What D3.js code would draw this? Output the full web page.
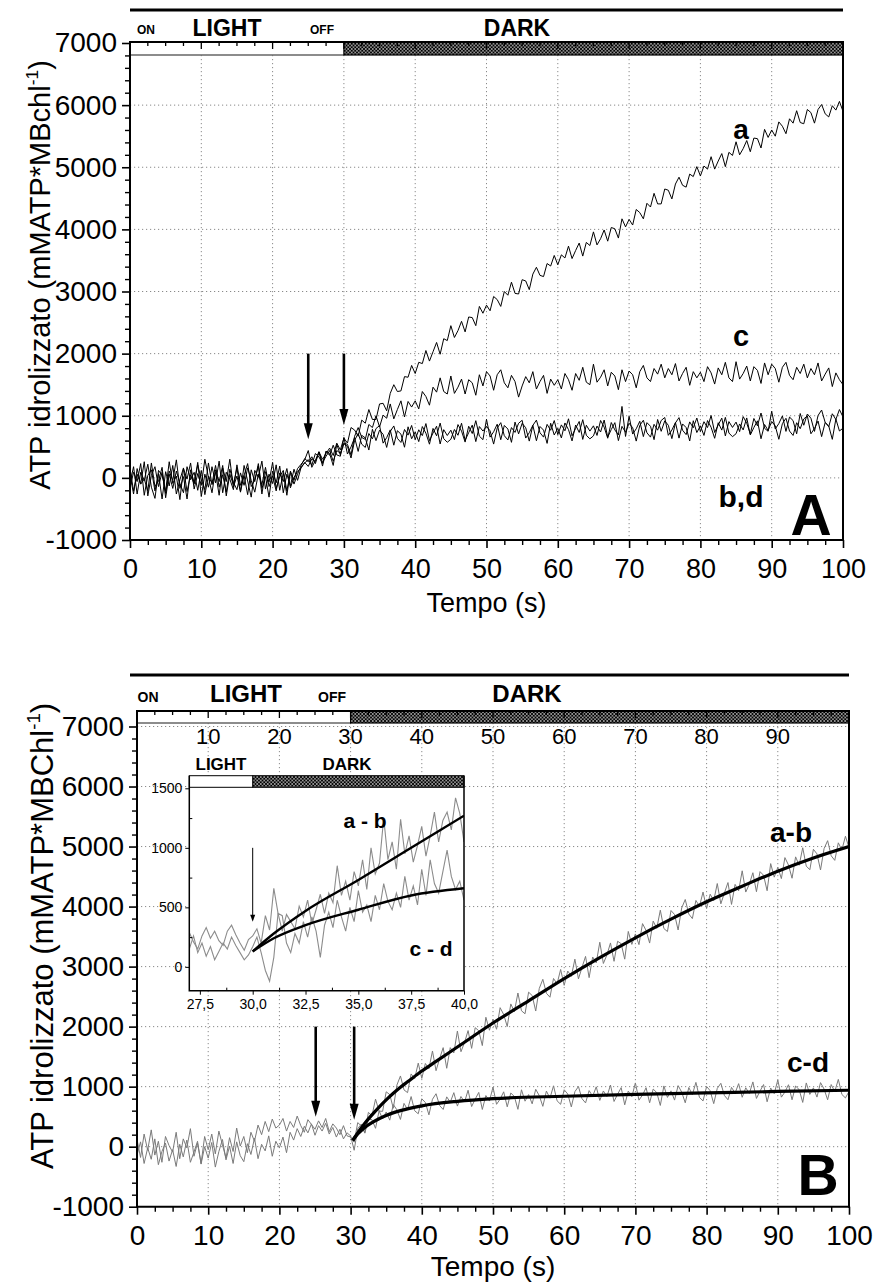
<!DOCTYPE html>
<html><head><meta charset="utf-8">
<script src="https://cdn.jsdelivr.net/npm/d3@7"></script>
<style>body{margin:0;background:#fff} svg text{font-family:"Liberation Sans",Arial,Helvetica,sans-serif}</style>
</head><body>
<svg id="c" width="875" height="1283"></svg>
<script>
// ---------------- DATA ----------------
const sampleStep = 0.5; // s, traces sampled every 0.5 s starting at 0
const xTicks = [0,10,20,30,40,50,60,70,80,90,100];
const yTicks = [-1000,0,1000,2000,3000,4000,5000,6000,7000];
const topTicksB = [10,20,30,40,50,60,70,80,90];
const insetXTicks = [27.5,30,32.5,35,37.5,40];
const insetYTicks = [0,500,1000,1500];
const lightEnd = 30;

// Panel A traces
const traceA = [
-80,180,-260,90,-40,220,-150,-330,120,40,
-210,260,-90,30,-350,150,-20,240,-180,70,
-120,300,10,-240,130,-60,200,-290,60,-110,
160,-220,40,230,-140,-30,190,-260,100,-70,
250,-170,20,120,-210,90,-100,60,200,310,
260,340,230,420,300,390,480,360,560,450,
640,560,810,770,670,930,880,1100,940,940,
1190,1200,1080,1360,1500,1390,1400,1630,1620,1810,
1680,1860,1840,2050,1880,2030,2180,1990,2240,2210,
2450,2260,2370,2520,2350,2590,2580,2450,2760,2650,
2780,2690,2920,2870,2760,3000,2940,3150,2970,2960,
3190,3170,3030,3280,3390,3260,3240,3450,3410,3580,
3430,3590,3540,3730,3530,3660,3780,3570,3790,3740,
3960,3750,3850,3990,3810,4030,4010,3860,4170,4040,
4160,4070,4320,4270,4170,4420,4360,4580,4410,4410,
4650,4630,4490,4730,4840,4710,4680,4890,4850,5010,
4860,5020,4970,5170,4970,5100,5220,5010,5240,5190,
5410,5200,5300,5430,5250,5470,5460,5310,5610,5480,
5600,5500,5730,5660,5540,5780,5710,5910,5720,5700,
5930,5880,5710,5930,6010,5860,5810,5990,5920,6060,
5900];
const traceC = [
150,-210,60,-100,260,-290,40,180,-140,90,
-250,110,-40,290,-170,20,-340,130,-80,210,
-30,-190,240,-110,90,-280,160,-60,300,-150,
30,-230,200,-50,-310,120,10,270,-180,60,
-90,210,-200,80,-280,110,-40,150,220,290,
440,170,280,420,190,430,390,200,540,370,
560,540,370,670,810,650,620,860,810,1000,
820,1010,960,1190,950,1100,1240,980,1230,1140,
1240,1110,1390,1310,1170,1460,1380,1610,1390,1350,
1640,1360,1460,1590,1350,1580,1530,1330,1660,1480,
1710,1640,1410,1660,1740,1530,1450,1650,1550,1300,
1480,1630,1530,1710,1430,1550,1650,1360,1590,1490,
1580,1430,1680,1580,1410,1680,1570,1780,1540,1500,
1830,1540,1620,1740,1480,1700,1640,1420,1740,1550,
1720,1660,1450,1710,1810,1610,1550,1760,1670,1830,
1610,1760,1660,1840,1560,1680,1780,1490,1710,1610,
1700,1550,1790,1690,1510,1770,1660,1860,1610,1550,
1870,1590,1680,1800,1560,1790,1730,1520,1850,1660,
1830,1760,1540,1780,1860,1650,1580,1780,1680,1830,
1610,1760,1660,1850,1560,1670,1770,1470,1690,1580,
1500];
const traceB = [
-160,90,-60,230,-280,40,130,-210,70,-340,
100,-130,200,-260,-30,160,-220,50,-100,250,
-300,60,-150,180,-80,270,-240,90,-20,-190,
210,-120,40,-270,130,-60,230,-170,20,-310,
110,-80,190,-240,60,-130,140,-40,170,240,
294,204,392,337,231,427,363,526,370,348,
652,384,498,648,426,684,644,448,782,600,
768,701,490,747,836,637,570,779,688,844,
616,774,680,874,600,722,832,546,776,682,
768,615,858,753,576,831,714,921,672,615,
942,656,742,864,614,844,786,572,898,708,
878,807,592,845,930,727,656,861,766,923,
696,853,758,951,676,797,908,619,848,753,
838,683,924,817,638,891,772,690,1150,667,
992,705,790,911,664,889,830,615,940,749,
918,847,632,885,970,767,696,901,806,963,
746,904,810,1004,730,852,962,676,906,812,
898,744,986,880,706,956,838,1044,798,750,
1072,787,874,997,748,979,922,709,1036,847,
1028,960,748,1004,1092,892,824,1032,940,1100,
980];
const traceD = [
50,-260,150,-100,-20,-210,240,-140,-50,170,
-320,60,-170,110,-90,-240,180,-30,90,-200,
120,-270,30,-90,200,-150,50,-230,140,-70,
-190,80,-120,160,-40,-230,60,-110,170,-140,
30,-210,80,-60,150,-160,10,100,160,250,
184,308,264,412,248,348,440,268,440,396,
548,506,320,602,716,542,490,714,628,794,
842,559,648,773,526,759,704,493,822,630,
738,584,826,720,542,796,677,882,631,573,
621,779,686,880,603,728,849,584,826,754,
828,758,544,801,889,679,610,810,732,879,
927,641,727,846,598,827,769,555,880,690,
798,643,884,777,595,851,731,937,686,628,
676,834,738,931,655,778,889,600,829,734,
878,808,592,845,928,726,656,862,768,924,
972,685,770,891,640,868,810,594,920,730,
838,683,923,815,637,888,769,974,722,663,
711,868,772,965,690,811,918,630,859,763,
908,837,621,874,959,754,683,888,792,949,
997,710,795,915,664,892,835,620,947,755,
800];

// Panel B traces (differences)
const traceAB = [
120,-180,210,-60,280,-140,90,-260,170,20,
-90,240,-200,130,-20,300,-160,60,-280,170,
-50,210,-120,260,30,-190,150,-80,310,10,
170,-100,240,90,360,200,420,250,460,310,
360,470,260,420,320,510,350,240,450,370,
290,430,320,470,250,380,310,200,350,180,
161,75,401,346,234,572,514,792,593,589,
914,868,640,1026,1178,946,900,1212,1134,1392,
1138,1386,1298,1594,1266,1466,1650,1306,1650,1562,
1926,1582,1734,1934,1638,1982,1932,1684,2156,1940,
2124,1956,2316,2202,2002,2378,2248,2560,2264,2214,
2574,2518,2260,2636,2788,2556,2490,2802,2714,2952,
2688,2926,2838,3124,2796,2986,3170,2816,3160,3062,
3406,3052,3194,3394,3088,3422,3382,3124,3586,3370,
3544,3366,3716,3602,3392,3758,3638,3940,3634,3584,
3934,3868,3610,3976,4118,3876,3800,4102,4004,4242,
3968,4206,4098,4384,4046,4226,4400,4036,4370,4262,
4596,4242,4374,4564,4248,4582,4522,4264,4716,4490,
4654,4466,4816,4692,4472,4828,4688,4980,4674,4614,
4954,4878,4610,4966,5098,4846,4770,5062,4944,5172,
4980];
const traceCD = [
-140,80,-280,-20,-210,130,-300,-80,60,-240,
-50,-330,40,-170,110,-260,-90,90,-290,0,
-190,70,-340,-80,120,-220,10,-280,80,-150,
-250,50,-130,140,-200,40,-70,180,-160,90,
-20,160,-100,240,110,300,170,340,230,380,
190,350,260,390,210,320,160,290,130,230,
180,-60,300,376,225,457,449,306,596,462,
578,442,702,614,454,721,616,835,598,548,
798,736,530,790,882,686,620,830,740,900,
676,836,744,940,668,792,904,620,852,760,
992,706,792,914,664,894,836,622,948,758,
868,714,956,850,672,926,808,1014,764,706,
948,877,663,916,1002,799,729,934,840,997,
771,928,834,1027,753,874,984,697,927,832,
1062,775,860,982,731,960,901,687,1012,821,
930,776,1017,910,731,985,866,1071,820,762,
1003,932,717,971,1056,853,782,988,893,1050,
823,981,886,1079,804,926,1035,748,977,883,
1112,825,910,1032,781,1010,951,737,1062,871,
980,826,1067,960,781,1035,916,1121,870,812,
920];

// Fitted curves (panel B)
const fitAB_t = [30.3,31,32,33,34,35,36,37,38,40,42,45,50,55,60,65,70,75,80,85,90,95,100];
const fitAB_v = [110,230,390,530,660,780,890,990,1080,1260,1420,1660,2060,2430,2800,3150,3480,3790,4080,4340,4590,4810,5000];
const fitCD_t = [30.3,31,32,33,34,35,37,40,45,50,60,70,80,90,100];
const fitCD_v = [100,210,320,400,465,520,600,680,755,800,840,870,895,920,940];

// Inset (27-40 s, sampled every 0.2 s)
const insetStart = 27, insetStep = 0.2;
const insetAB = [
290,210,150,260,330,240,300,220,180,300,350,270,200,140,230,
260,320,200,430,310,660,450,300,440,380,
320,510,420,560,360,480,610,450,620,540,
850,600,720,560,800,680,900,650,1000,780,
870,1250,900,1050,820,1240,950,1100,880,1020,
1180,930,1100,1300,1050,1230,1300,1150,1420,1290,1050];
const insetCD = [
150,260,120,200,90,170,60,130,200,150,250,180,120,60,100,
170,250,120,-30,-120,80,450,430,200,120,
280,200,380,250,420,300,80,350,460,330,
560,420,300,500,380,640,460,520,380,600,
480,700,550,480,620,500,760,560,680,520,
820,600,900,700,620,800,980,760,650,720,560];
const insetFitAB_t = [30,31,32.5,35,37.5,40];
const insetFitAB_v = [130,280,470,730,1000,1270];
const insetFitCD_t = [30,31,32.5,35,37.5,40];
const insetFitCD_v = [130,240,350,480,600,660];

// Arrows [time, from value, to value]
const arrowsA = [[25,2000,620],[30,2000,850]];
const arrowsB = [[25.1,2000,500],[30.5,2000,450]];
const arrowInset = [30,1000,380];

// ---------------- DRAWING ----------------
const svg = d3.select("#c");
const defs = svg.append("defs");
const pat = defs.append("pattern").attr("id","hatch").attr("patternUnits","userSpaceOnUse").attr("width",3.5).attr("height",3.5);
pat.append("rect").attr("width",3.5).attr("height",3.5).attr("fill","#fff");
pat.append("path").attr("d","M0,0L3.5,3.5M3.5,0L0,3.5").attr("stroke","#000").attr("stroke-width",1.1);

const toPts = (vals, t0, dt) => vals.map((v,i)=>({t:t0+i*dt, v}));
const zip = (ts, vs) => ts.map((t,i)=>({t, v:vs[i]}));
const plain = d => String(d);

function arrow(g, xp, y1, y2, sw, hl, hw){
  g.append("line").attr("x1",xp).attr("x2",xp).attr("y1",y1).attr("y2",y2-hl+1)
    .attr("stroke","#000").attr("stroke-width",sw);
  g.append("path").attr("d",`M${xp-hw/2},${y2-hl}L${xp+hw/2},${y2-hl}L${xp},${y2}Z`).attr("fill","#000");
}

function yTitle(g, xb, yc, fs, chl){
  const t = g.append("text").attr("transform",`translate(${xb},${yc}) rotate(-90)`)
    .attr("text-anchor","middle").attr("font-size",fs);
  t.append("tspan").text("ATP idrolizzato (mMATP*MB"+chl);
  t.append("tspan").attr("font-size",fs*0.6).attr("dy",-fs*0.42).text("-1");
  t.append("tspan").attr("dy",fs*0.42).text(")");
}

function panel(c){
  const x = d3.scaleLinear().domain([0,100]).range([c.left,c.right]);
  const y = d3.scaleLinear().domain([-1000,7000]).range([c.bottom,c.top7000]);
  const g = svg.append("g");
  const cid = "clip"+c.id;
  defs.append("clipPath").attr("id",cid).append("rect")
    .attr("x",c.left).attr("y",c.barBottom).attr("width",c.right-c.left).attr("height",c.bottom-c.barBottom);

  g.append("g").selectAll("line").data(xTicks.slice(1,-1)).join("line")
    .attr("x1",d=>x(d)).attr("x2",d=>x(d)).attr("y1",c.barBottom).attr("y2",c.bottom)
    .attr("stroke","#8a8a8a").attr("stroke-width",1).attr("stroke-dasharray","1.2,2.8");
  g.append("g").selectAll("line").data(yTicks.filter(d=>d>-1000 && y(d)>c.barBottom+1)).join("line")
    .attr("x1",c.left).attr("x2",c.right).attr("y1",d=>y(d)).attr("y2",d=>y(d))
    .attr("stroke","#8a8a8a").attr("stroke-width",1).attr("stroke-dasharray","1.2,2.8");

  const line = d3.line().x(d=>x(d.t)).y(d=>y(d.v));
  const tg = g.append("g").attr("clip-path",`url(#${cid})`);
  c.traces.forEach(tr=>{
    tg.append("path").attr("d",line(toPts(tr,0,sampleStep))).attr("fill","none")
      .attr("stroke",c.traceColor).attr("stroke-width",1).attr("stroke-linejoin","round");
  });
  if (c.fits) {
    const fl = d3.line().curve(d3.curveMonotoneX).x(d=>x(d.t)).y(d=>y(d.v));
    c.fits.forEach(f=>{
      tg.append("path").attr("d",fl(f)).attr("fill","none").attr("stroke","#000").attr("stroke-width",3.2);
    });
  }

  g.append("line").attr("x1",c.lineX0).attr("x2",c.right).attr("y1",c.topLine).attr("y2",c.topLine)
    .attr("stroke","#000").attr("stroke-width",3);
  const hdr = [["ON",c.onX,c.smallFs,c.smallY],["LIGHT",c.lightX,c.bigFs,c.bigY],["OFF",c.offX,c.smallFs,c.smallY],["DARK",c.darkX,c.bigFs,c.bigY]];
  hdr.forEach(h=>g.append("text").attr("x",h[1]).attr("y",h[3]).attr("text-anchor","middle")
    .attr("font-weight","bold").attr("font-size",h[2]).text(h[0]));

  g.append("rect").attr("x",x(0)).attr("y",c.barTop).attr("width",x(lightEnd)-x(0)).attr("height",c.barBottom-c.barTop)
    .attr("fill","#fff");
  g.append("line").attr("x1",x(0)).attr("x2",x(lightEnd)).attr("y1",c.barBottom).attr("y2",c.barBottom).attr("stroke","#666").attr("stroke-width",1.5);
  g.append("rect").attr("x",x(lightEnd)).attr("y",c.barTop).attr("width",x(100)-x(lightEnd)).attr("height",c.barBottom-c.barTop)
    .attr("fill","url(#hatch)").attr("stroke","#000").attr("stroke-width",1.2);
  g.append("line").attr("x1",x(0)).attr("x2",x(100)).attr("y1",c.barTop).attr("y2",c.barTop).attr("stroke","#000").attr("stroke-width",2);
  g.append("g").selectAll("line").data(d3.range(0,101,2.5)).join("line")
    .attr("x1",d=>x(d)).attr("x2",d=>x(d)).attr("y1",c.barTop)
    .attr("y2",d=>c.barTop + (d%10===0?7:4)).attr("stroke","#000").attr("stroke-width",1.3);

  if (c.topLabels){
    g.append("g").selectAll("text").data(topTicksB).join("text")
      .attr("x",d=>x(d)).attr("y",c.topLabelY).attr("text-anchor","middle").attr("font-size",22).text(d=>d);
  }

  const ax = g.append("g").attr("transform",`translate(0,${c.bottom})`);
  ax.call(d3.axisBottom(x).tickValues(xTicks).tickSize(8).tickFormat(plain));
  ax.select(".domain").remove();
  ax.selectAll(".tick line").attr("stroke-width",1.6);
  ax.selectAll("text").attr("font-size",c.xTickFs).attr("fill","#000").attr("y",c.xLabelOff).attr("dy",0).attr("font-family",null);
  const axm = g.append("g").attr("transform",`translate(0,${c.bottom})`);
  axm.call(d3.axisBottom(x).tickValues(d3.range(0,101,2.5).filter(d=>d%10!==0)).tickSize(5).tickFormat(""));
  axm.select(".domain").remove(); axm.selectAll(".tick line").attr("stroke-width",1.4);

  const ay = g.append("g").attr("transform",`translate(${c.left},0)`);
  ay.call(d3.axisLeft(y).tickValues(yTicks).tickSize(8).tickPadding(5).tickFormat(plain));
  ay.select(".domain").remove();
  ay.selectAll(".tick line").attr("stroke-width",1.6);
  ay.selectAll("text").attr("font-size",c.yTickFs).attr("fill","#000").attr("font-family",null);
  const aym = g.append("g").attr("transform",`translate(${c.left},0)`);
  aym.call(d3.axisLeft(y).tickValues(d3.range(-1000,7001,200).filter(d=>d%1000!==0)).tickSize(5).tickFormat(""));
  aym.select(".domain").remove(); aym.selectAll(".tick line").attr("stroke-width",1.4);

  g.append("line").attr("x1",c.left).attr("x2",c.left).attr("y1",c.barTop-1).attr("y2",c.bottom+1).attr("stroke","#000").attr("stroke-width",2);
  g.append("line").attr("x1",c.right).attr("x2",c.right).attr("y1",c.barTop-1).attr("y2",c.bottom+1).attr("stroke","#000").attr("stroke-width",2);
  g.append("line").attr("x1",c.left).attr("x2",c.right).attr("y1",c.bottom).attr("y2",c.bottom).attr("stroke","#000").attr("stroke-width",2);

  g.append("text").attr("x",(c.left+c.right)/2).attr("y",c.xTitleY).attr("text-anchor","middle").attr("font-size",c.xTitleFs).text("Tempo (s)");
  yTitle(g, c.yTitleX, c.yTitleY, c.yTitleFs, c.chl);

  c.arrows.forEach(a=>arrow(g, x(a[0]), y(a[1]), y(a[2]), 2.6, 16, 9));

  c.labels.forEach(l=>g.append("text").attr("x",l[1]).attr("y",l[2]).attr("text-anchor","middle")
    .attr("font-weight","bold").attr("font-size",l[3]).text(l[0]));
  return {x,y,g};
}

panel({id:"A", left:130, right:843, top7000:43, bottom:540, barTop:42, barBottom:55, topLine:10, lineX0:130,
  onX:146, lightX:227, offX:322, darkX:517, smallFs:12, bigFs:23, smallY:34, bigY:36,
  xTickFs:27, yTickFs:28, xLabelOff:38, xTitleY:612, xTitleFs:27, yTitleX:50, yTitleY:275, yTitleFs:29, chl:"chl",
  traces:[traceB,traceD,traceC,traceA], traceColor:"#000",
  arrows:arrowsA,
  labels:[["a",741,139,28],["c",741,346,29],["b,d",741,507,30],["A",811,535,57]]});

panel({id:"B", left:137, right:849, top7000:726.5, bottom:1206.7, barTop:711, barBottom:723, topLine:675, lineX0:130,
  onX:148, lightX:246, offX:332, darkX:527, smallFs:14, bigFs:24, smallY:702, bigY:702,
  topLabels:true, topLabelY:744,
  xTickFs:28, yTickFs:28, xLabelOff:38, xTitleY:1276, xTitleFs:28, yTitleX:53, yTitleY:936, yTitleFs:31, chl:"Chl",
  traces:[traceCD,traceAB], traceColor:"#7a7a7a",
  fits:[zip(fitAB_t,fitAB_v), zip(fitCD_t,fitCD_v)],
  arrows:arrowsB,
  labels:[["a-b",791,842,28],["c-d",808,1072,28],["B",818,1195,57]]});

// ---------------- INSET ----------------
(function(){
  const L=189.3, R=464, T=788.3, Bt=990.7, barTop=775.7;
  const x = d3.scaleLinear().domain([27,40]).range([L,R]);
  const y = d3.scaleLinear().domain([-200,1500]).range([Bt,T]);
  const g = svg.append("g");
  g.append("rect").attr("x",L).attr("y",barTop).attr("width",R-L).attr("height",Bt-barTop).attr("fill","#fff");
  defs.append("clipPath").attr("id","clipI").append("rect").attr("x",L).attr("y",T).attr("width",R-L).attr("height",Bt-T);
  const line = d3.line().x(d=>x(d.t)).y(d=>y(d.v));
  const tg = g.append("g").attr("clip-path","url(#clipI)");
  [insetCD, insetAB].forEach(v=>tg.append("path").attr("d",line(toPts(v,insetStart,insetStep)))
    .attr("fill","none").attr("stroke","#8c8c8c").attr("stroke-width",1.1));
  const cl = d3.line().curve(d3.curveMonotoneX).x(d=>x(d.t)).y(d=>y(d.v));
  [zip(insetFitAB_t,insetFitAB_v), zip(insetFitCD_t,insetFitCD_v)].forEach(f=>tg.append("path").attr("d",cl(f))
    .attr("fill","none").attr("stroke","#000").attr("stroke-width",2.4));
  g.append("rect").attr("x",x(lightEnd)).attr("y",barTop).attr("width",R-x(lightEnd)).attr("height",T-barTop-1)
    .attr("fill","url(#hatch)").attr("stroke","#000").attr("stroke-width",1);
  g.append("rect").attr("x",L).attr("y",barTop).attr("width",x(lightEnd)-L).attr("height",T-barTop-1)
    .attr("fill","#fff").attr("stroke","#000").attr("stroke-width",1);
  g.append("text").attr("x",221).attr("y",770).attr("text-anchor","middle").attr("font-weight","bold").attr("font-size",17).text("LIGHT");
  g.append("text").attr("x",347).attr("y",770).attr("text-anchor","middle").attr("font-weight","bold").attr("font-size",17).text("DARK");
  const fmt = d => d3.format(".1f")(d).replace(".",",");
  const ax = g.append("g").attr("transform",`translate(0,${Bt})`);
  ax.call(d3.axisBottom(x).tickValues(insetXTicks).tickSize(4).tickPadding(4).tickFormat(fmt));
  ax.select(".domain").remove();
  ax.selectAll("text").attr("font-size",14).attr("fill","#000").attr("font-family",null);
  const axm = g.append("g").attr("transform",`translate(0,${Bt})`);
  axm.call(d3.axisTop(x).tickValues(d3.range(28.75,40,2.5)).tickSize(3).tickFormat(""));
  axm.select(".domain").remove();
  const ay = g.append("g").attr("transform",`translate(${L},0)`);
  ay.call(d3.axisLeft(y).tickValues(insetYTicks).tickSize(4).tickPadding(3).tickFormat(plain));
  ay.select(".domain").remove();
  ay.selectAll("text").attr("font-size",14).attr("fill","#000").attr("font-family",null);
  const aym = g.append("g").attr("transform",`translate(${L},0)`);
  aym.call(d3.axisRight(y).tickValues([250,750,1250]).tickSize(3).tickFormat(""));
  aym.select(".domain").remove();
  g.append("path").attr("d",`M${L},${barTop}V${Bt}H${R}V${barTop}`).attr("fill","none").attr("stroke","#000").attr("stroke-width",1.5);
  const xa = x(arrowInset[0]);
  g.append("line").attr("x1",xa).attr("x2",xa).attr("y1",y(arrowInset[1])).attr("y2",y(arrowInset[2])-6).attr("stroke","#000").attr("stroke-width",1);
  g.append("path").attr("d",`M${xa-2.5},${y(arrowInset[2])-7}L${xa+2.5},${y(arrowInset[2])-7}L${xa},${y(arrowInset[2])}Z`).attr("fill","#000");
  g.append("text").attr("x",365).attr("y",828).attr("text-anchor","middle").attr("font-weight","bold").attr("font-size",21).text("a - b");
  g.append("text").attr("x",431).attr("y",956).attr("text-anchor","middle").attr("font-weight","bold").attr("font-size",21).text("c - d");
})();
</script>
</body></html>
